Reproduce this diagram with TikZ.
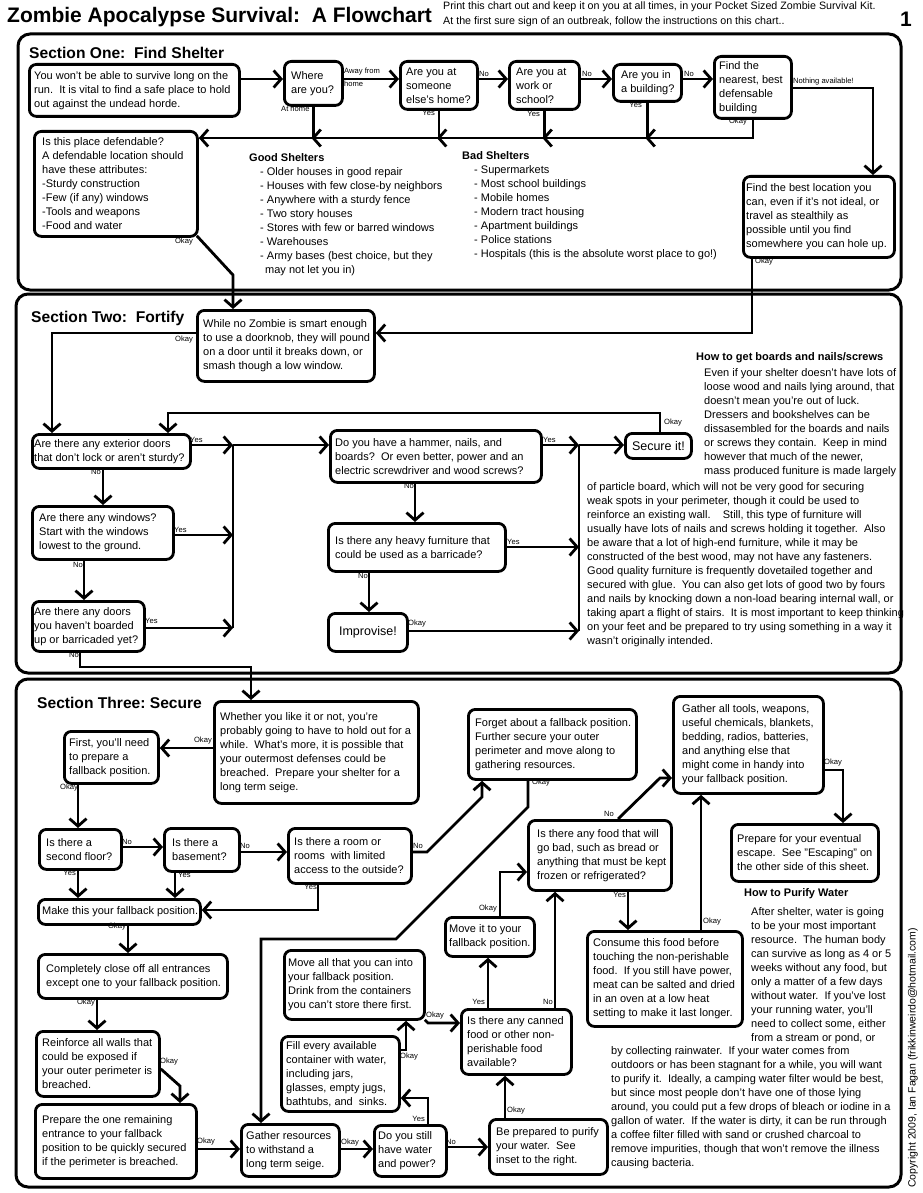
\documentclass[tikz,border=0pt]{standalone}
\usepackage{fontspec}
\setmainfont{Liberation Sans}
\usetikzlibrary{arrows.meta}
\frenchspacing
\newcounter{lbc}
\tikzset{
  bx/.style={draw, line width=2.8pt, rounded corners=7pt, inner sep=0pt},
  tx/.style={font=\fontsize{11}{14}\selectfont, align=left, inner sep=0pt},
  ln/.style={line width=2.8pt},
  ar/.style={line width=2.8pt, -{Straight Barb[length=7.5pt,width=17pt]}},
  lb/.style={font=\fontsize{7.6}{8}\selectfont, inner sep=0pt},
  frm/.style={draw, line width=3pt, rounded corners=12pt},
  hd/.style={font=\bfseries\fontsize{15.6}{18}\selectfont, inner sep=0pt, anchor=base west},
  bh/.style={font=\bfseries\fontsize{11}{14}\selectfont, inner sep=0pt, anchor=west},
  big/.style={font=\fontsize{12.5}{14}\selectfont, inner sep=0pt},
}
\newcommand\Bx[7][]{%
  \node[bx, anchor=north west, minimum width=#5pt, minimum height=#6pt] (#2) at (#3,#4) {};
  \node[tx, anchor=west, #1] (#2t) at ([xshift=5pt]#2.west) {#7};}
\newcommand\Lb[3][west]{\stepcounter{lbc}\node[lb, anchor=#1] (lb\arabic{lbc}) at (#2) {#3};}
\newcommand\TipL[1]{\draw[ar] ([xshift=7pt]#1) -- ([xshift=-2pt]#1);}
\begin{document}
\begin{tikzpicture}[x=1pt,y=-1pt]
\useasboundingbox (0,0) rectangle (922,1193);
\fill[white] (0,0) rectangle (922,1193);

% ---------- header ----------
\node[anchor=base west, font=\bfseries\fontsize{21}{24}\selectfont, inner sep=0pt] (title) at (7,23) {Zombie Apocalypse Survival:\ \ A Flowchart};
\node[anchor=north west, font=\fontsize{10.7}{15}\selectfont, align=left, inner sep=0pt] (intro) at (443,2) {Print this chart out and keep it on you at all times, in your Pocket Sized Zombie Survival Kit.\\At the first sure sign of an outbreak, follow the instructions on this chart..};
\node[anchor=base, font=\bfseries\fontsize{21}{24}\selectfont, inner sep=0pt] (pnum) at (906,27) {1};
\node[font=\fontsize{10.5}{12}\selectfont, rotate=90, anchor=west, inner sep=0pt] (copy) at (913,1188) {Copyright 2009, Ian Fagan (frikkinweirdo@hotmail.com)};

% ---------- frames ----------
\draw[frm] (18,34) rectangle (901,290);
\draw[frm] (16,294) rectangle (901,673);
\draw[frm] (16,679) rectangle (901,1187);
\node[hd] (s1h) at (29,59) {Section One:\ \ Find Shelter};
\node[hd] (s2h) at (31,322) {Section Two:\ \ Fortify};
\node[hd] (s3h) at (37,708) {Section Three: Secure};

% ---------- section one ----------
\Bx[xshift=1pt]{a1}{28}{63}{210}{52}{You won't be able to survive long on the\\run.\ \ It is vital to find a safe place to hold\\out against the undead horde.}
\Bx[xshift=3pt]{where}{283}{60}{58}{44}{Where\\are you?}
\Bx[xshift=2pt]{b3}{399}{60}{77}{48}{Are you at\\someone\\else's home?}
\Bx[xshift=3pt]{b4}{508}{60}{70}{48}{Are you at\\work or\\school?}
\Bx[xshift=4pt]{b5}{612}{63}{68}{37}{Are you in\\a building?}
\Bx[xshift=1pt]{b6}{713}{55}{77}{62}{Find the\\nearest, best\\defensable\\building}
\Bx[xshift=4pt]{b7}{33}{130}{163}{105}{Is this place defendable?\\A defendable location should\\have these attributes:\\-Sturdy construction\\-Few (if any) windows\\-Tools and weapons\\-Food and water}
\Bx[xshift=-1pt]{b8}{742}{175}{151}{81}{Find the best location you\\can, even if it's not ideal, or\\travel as stealthily as\\possible until you find\\somewhere you can hole up.}

\node[tx, anchor=north west] (good) at (249,153) {\textbf{Good Shelters}\\\hspace*{11pt}- Older houses in good repair\\\hspace*{11pt}- Houses with few close-by neighbors\\\hspace*{11pt}- Anywhere with a sturdy fence\\\hspace*{11pt}- Two story houses\\\hspace*{11pt}- Stores with few or barred windows\\\hspace*{11pt}- Warehouses\\\hspace*{11pt}- Army bases (best choice, but they\\\hspace*{16pt}may not let you in)};
\node[tx, anchor=north west] (bad) at (462,151) {\textbf{Bad Shelters}\\\hspace*{12pt}- Supermarkets\\\hspace*{12pt}- Most school buildings\\\hspace*{12pt}- Mobile homes\\\hspace*{12pt}- Modern tract housing\\\hspace*{12pt}- Apartment buildings\\\hspace*{12pt}- Police stations\\\hspace*{12pt}- Hospitals (this is the absolute worst place to go!)};

% ---------- section two ----------
\Bx[xshift=2pt]{z1}{196}{309}{177}{71}{While no Zombie is smart enough\\to use a doorknob, they will pound\\on a door until it breaks down, or\\smash though a low window.}
\Bx[xshift=-2pt]{e1}{31}{433}{158}{34}{Are there any exterior doors\\that don't lock or aren't sturdy?}
\Bx[xshift=3pt]{w1}{31}{505}{141}{53}{Are there any windows?\\Start with the windows\\lowest to the ground.}
\Bx[xshift=-2pt]{d1}{31}{600}{112}{50}{Are there any doors\\you haven't boarded\\up or barricaded yet?}
\Bx[xshift=1pt]{hm}{329}{429}{211}{52}{Do you have a hammer, nails, and\\boards?\ \ Or even better, power and an\\electric screwdriver and wood screws?}
\Bx[xshift=3pt]{f1}{327}{522}{177}{48}{Is there any heavy furniture that\\could be used as a barricade?}
\node[bx, anchor=north west, minimum width=79pt, minimum height=38pt] (i1) at (327,612) {};
\node[big] (i1t) at (i1.center) {Improvise!};
\node[bx, anchor=north west, minimum width=66pt, minimum height=25pt] (s1) at (624,432) {};
\node[big] (s1t) at (s1.center) {Secure it!};

\node[bh] (bhd) at (696,358) {How to get boards and nails/screws};
\node[tx, anchor=north west] (bp1) at (704,368) {Even if your shelter doesn't have lots of\\loose wood and nails lying around, that\\doesn't mean you're out of luck.\\Dressers and bookshelves can be\\dissasembled for the boards and nails\\or screws they contain.\ \ Keep in mind\\however that much of the newer,\\mass produced funiture is made largely};
\node[tx, anchor=north west] (bp2) at (587,482) {of particle board, which will not be very good for securing\\weak spots in your perimeter, though it could be used to\\reinforce an existing wall.\ \ \ \ Still, this type of furniture will\\usually have lots of nails and screws holding it together.\ \ Also\\be aware that a lot of high-end furniture, while it may be\\constructed of the best wood, may not have any fasteners.\\Good quality furniture is frequently dovetailed together and\\secured with glue.\ \ You can also get lots of good two by fours\\and nails by knocking down a non-load bearing internal wall, or\\taking apart a flight of stairs.\ \ It is most important to keep thinking\\on your feet and be prepared to try using something in a way it\\wasn't originally intended.};

% ---------- section three ----------
\Bx[xshift=2pt]{wh}{213}{700}{204}{102}{Whether you like it or not, you're\\probably going to have to hold out for a\\while.\ \ What's more, it is possible that\\your outermost defenses could be\\breached.\ \ Prepare your shelter for a\\long term seige.}
\Bx[xshift=1pt]{fi}{63}{730}{94}{52}{First, you'll need\\to prepare a\\fallback position.}
\Bx[xshift=3pt]{sf}{38}{828}{82}{40}{Is there a\\second floor?}
\Bx[xshift=4pt]{bs}{163}{827}{75}{43}{Is there a\\basement?}
\Bx[xshift=2pt]{rm}{287}{827}{123}{55}{Is there a room or\\rooms\ \ with limited\\access to the outside?}
\Bx{mk}{37}{898}{162}{25}{Make this your fallback position.}
\Bx[xshift=4pt]{cl}{37}{953}{189}{44}{Completely close off all entrances\\except one to your fallback position.}
\Bx[xshift=2pt]{rf}{35}{1030}{123}{65}{Reinforce all walls that\\could be exposed if\\your outer perimeter is\\breached.}
\Bx[xshift=3pt]{pr}{34}{1103}{161}{74}{Prepare the one remaining\\entrance to your fallback\\position to be quickly secured\\if the perimeter is breached.}
\Bx[xshift=1pt]{ga}{240}{1123}{98}{52}{Gather resources\\to withstand a\\long term seige.}
\Bx{wp}{373}{1124}{72}{51}{Do you still\\have water\\and power?}
\Bx[xshift=1pt]{fl}{280}{1035}{118}{75}{Fill every available\\container with water,\\including jars,\\glasses, empty jugs,\\bathtubs, and\ \ sinks.}
\Bx{mv}{283}{949}{140}{69}{Move all that you can into\\your fallback position.\\Drink from the containers\\you can't store there first.}
\Bx[xshift=2pt]{cn}{460}{1008}{110}{65}{Is there any canned\\food or other non-\\perishable food\\available?}
\Bx{mi}{444}{916}{89}{39}{Move it to your\\fallback position.}
\Bx[xshift=5pt]{pe}{527}{819}{143}{70}{Is there any food that will\\go bad, such as bread or\\anything that must be kept\\frozen or refrigerated?}
\Bx[xshift=3pt]{fg}{467}{708}{168}{70}{Forget about a fallback position.\\Further secure your outer\\perimeter and move along to\\gathering resources.}
\Bx[xshift=5pt]{gt}{672}{695}{150}{97}{Gather all tools, weapons,\\useful chemicals, blankets,\\bedding, radios, batteries,\\and anything else that\\might come in handy into\\your fallback position.}
\Bx[xshift=2pt]{es}{730}{823}{147}{57}{Prepare for your eventual\\escape.\ \ See "Escaping" on\\the other side of this sheet.}
\Bx[xshift=2pt]{cs}{586}{930}{155}{95}{Consume this food before\\touching the non-perishable\\food.\ \ If you still have power,\\meat can be salted and dried\\in an oven at a low heat\\setting to make it last longer.}
\Bx[xshift=3pt]{bp}{488}{1118}{118}{55}{Be prepared to purify\\your water.\ \ See\\inset to the right.}

\node[bh] (wph) at (744,894) {How to Purify Water};
\node[tx, anchor=north west] (wp1) at (751,907) {After shelter, water is going\\to be your most important\\resource.\ \ The human body\\can survive as long as 4 or 5\\weeks without any food, but\\only a matter of a few days\\without water.\ \ If you've lost\\your running water, you'll\\need to collect some, either\\from a stream or pond, or};
\node[tx, anchor=north west] (wp2) at (611,1046) {by collecting rainwater.\ \ If your water comes from\\outdoors or has been stagnant for a while, you will want\\to purify it.\ \ Ideally, a camping water filter would be best,\\but since most people don't have one of those lying\\around, you could put a few drops of bleach or iodine in a\\gallon of water.\ \ If the water is dirty, it can be run through\\a coffee filter filled with sand or crushed charcoal to\\remove impurities, though that won't remove the illness\\causing bacteria.};

% ---------- connectors: section one ----------
\coordinate (r1) at (0,79);
\draw[ar] (a1.east |- r1) -- (where.west |- r1);
\draw[ar] (where.east |- r1) -- (b3.west |- r1);
\draw[ar] (b3.east |- r1) -- (b4.west |- r1);
\draw[ar] (b4.east |- r1) -- (b5.west |- r1);
\draw[ar] (b5.east |- r1) -- (b6.west |- r1);
\coordinate (n1) at (873,88);
\draw[ar] (b6.east |- n1) -- (n1) -- (n1 |- b8.north);
\coordinate (L1) at (0,138);
\draw[ar] (b6.south) -- (b6.south |- L1) -- (b7.east |- L1);
\foreach \b in {where,b3,b4,b5}{
  \draw[ln] (\b.south) -- (\b.south |- L1);
  \coordinate (j\b) at (\b.south |- L1);
  \TipL{j\b}
}
\coordinate (k1) at (233,275);
\draw[ar] ([shift={(-2,-2)}]b7.south east) -- (k1) -- (k1 |- z1.north);
\coordinate (k2) at (752,333);
\draw[ar] (b8.south -| k2) -- (k2) -- (z1.east |- k2);

\Lb{344,72}{Away from}
\Lb{344,84}{home}
\Lb{479,74}{No}
\Lb{582,74}{No}
\Lb{684,74}{No}
\Lb{793,82}{Nothing available!}
\Lb{281,109}{At home}
\Lb[east]{435,113}{Yes}
\Lb[east]{540,114}{Yes}
\Lb[east]{642,105}{Yes}
\Lb[east]{747,122}{Okay}
\Lb[east]{193,242}{Okay}
\Lb{755,262}{Okay}

% ---------- connectors: section two ----------
\coordinate (k3) at (52,333);
\draw[ar] (z1.west |- k3) -- (k3) -- (k3 |- e1.north);
\coordinate (k4) at (168,413);
\coordinate (k5) at (660,413);
\draw[ar] (s1.north -| k5) -- (k5) -- (k4) -- (k4 |- e1.north);
\coordinate (c1) at (233,445);
\coordinate (c2) at (233,535);
\coordinate (c3) at (233,628);
\draw[ar] (e1.east |- c1) -- (c1);
\draw[ar] (w1.east |- c2) -- (c2);
\draw[ar] (d1.east |- c3) -- (c3);
\draw[ln] (c1) -- (c3);
\draw[ar] (c1) -- (hm.west |- c1);
\coordinate (c4) at (579,445);
\coordinate (c5) at (579,547);
\coordinate (c6) at (579,631);
\draw[ar] (hm.east |- c4) -- (c4);
\draw[ar] (f1.east |- c5) -- (c5);
\draw[ar] (i1.east |- c6) -- (c6);
\draw[ln] (c4) -- (c6);
\draw[ar] (c4) -- (s1.west |- c4);
\coordinate (k6) at (415,0);
\draw[ar] (hm.south -| k6) -- (k6 |- f1.north);
\coordinate (k7) at (369,0);
\draw[ar] (f1.south -| k7) -- (k7 |- i1.north);
\coordinate (k8) at (103,0);
\draw[ar] (e1.south -| k8) -- (k8 |- w1.north);
\coordinate (k8b) at (84,0);
\draw[ar] (w1.south -| k8b) -- (k8b |- d1.north);
\coordinate (k9) at (80,667);
\coordinate (k10) at (251,667);
\draw[ar] (d1.south -| k9) -- (k9) -- (k10) -- (k10 |- wh.north);

\Lb{175,340}{Okay}
\Lb{664,423}{Okay}
\Lb{190,440}{Yes}
\Lb[east]{101,472}{No}
\Lb{174,530}{Yes}
\Lb[east]{83,565}{No}
\Lb{145,621}{Yes}
\Lb[east]{79,655}{No}
\Lb{543,440}{Yes}
\Lb[east]{414,486}{No}
\Lb{507,542}{Yes}
\Lb[east]{368,576}{No}
\Lb{408,624}{Okay}

% ---------- connectors: section three ----------
\coordinate (m1) at (0,748);
\draw[ar] (wh.west |- m1) -- (fi.east |- m1);
\coordinate (m2) at (78,0);
\draw[ar] (fi.south -| m2) -- (m2 |- sf.north);
\coordinate (m3) at (0,847);
\draw[ar] (sf.east |- m3) -- (bs.west |- m3);
\coordinate (m4) at (0,852);
\draw[ar] (bs.east |- m4) -- (rm.west |- m4);
\coordinate (q1) at (427,852);
\coordinate (q2) at (482,797);
\draw[ar] (rm.east |- q1) -- (q1) -- (q2) -- (q2 |- fg.south);
\coordinate (m5) at (318,910);
\draw[ar] (rm.south -| m5) -- (m5) -- (mk.east |- m5);
\draw[ar] (sf.south -| m2) -- (m2 |- mk.north);
\coordinate (m6) at (175,0);
\draw[ar] (bs.south -| m6) -- (m6 |- mk.north);
\coordinate (m7) at (128,0);
\draw[ar] (mk.south -| m7) -- (m7 |- cl.north);
\coordinate (m8) at (97,0);
\draw[ar] (cl.south -| m8) -- (m8 |- rf.north);
\coordinate (q6) at (180,1086);
\draw[ar] ([yshift=-5pt]rf.east) -- (q6) -- (q6 |- pr.north);
\coordinate (m9) at (0,1149);
\draw[ar] (pr.east |- m9) -- (ga.west |- m9);
\draw[ar] (ga.east |- m9) -- (wp.west |- m9);
\coordinate (m10) at (0,1147);
\draw[ar] (wp.east |- m10) -- (bp.west |- m10);
\coordinate (m11) at (428,1098);
\draw[ar] (wp.north -| m11) -- (m11) -- (fl.east |- m11);
\coordinate (m12) at (406,1050);
\draw[ar] (fl.east |- m12) -- (m12) -- (m12 |- mv.south);
\coordinate (q7) at (428,1023);
\draw[ar] ([shift={(-1,-1)}]mv.south east) -- (q7) -- (cn.west |- q7);
\coordinate (m13) at (488,0);
\draw[ar] (cn.north -| m13) -- (m13 |- mi.south);
\coordinate (m14) at (500,872);
\draw[ar] (mi.north -| m14) -- (m14) -- (pe.west |- m14);
\coordinate (m15) at (555,0);
\draw[ar] (cn.north -| m15) -- (m15 |- pe.south);
\coordinate (q8) at (660,778);
\coordinate (q9) at (618,0);
\draw[ar] (pe.north -| q9) -- (q8) -- (gt.west |- q8);
\coordinate (m16) at (843,770);
\draw[ar] (gt.east |- m16) -- (m16) -- (m16 |- es.north);
\coordinate (m17) at (628,0);
\draw[ar] (pe.south -| m17) -- (m17 |- cs.north);
\coordinate (m18) at (701,0);
\draw[ar] (cs.north -| m18) -- (m18 |- gt.south);
\coordinate (m19) at (505,0);
\draw[ar] (bp.north -| m19) -- (m19 |- cn.south);
\coordinate (q3) at (528,807);
\coordinate (q4) at (396,939);
\coordinate (q5) at (261,939);
\draw[ar] (fg.south -| q3) -- (q3) -- (q4) -- (q5) -- (q5 |- ga.north);

\Lb[east]{212,741}{Okay}
\Lb{60,788}{Okay}
\Lb{122,842}{No}
\Lb{240,846}{No}
\Lb{413,846}{No}
\Lb[east]{317,887}{Yes}
\Lb[east]{76,873}{Yes}
\Lb{178,875}{Yes}
\Lb[east]{126,927}{Okay}
\Lb[east]{95,1003}{Okay}
\Lb{160,1062}{Okay}
\Lb{197,1142}{Okay}
\Lb{341,1143}{Okay}
\Lb{446,1142}{No}
\Lb[east]{425,1119}{Yes}
\Lb{400,1057}{Okay}
\Lb{426,1016}{Okay}
\Lb[east]{485,1002}{Yes}
\Lb[east]{553,1002}{No}
\Lb[east]{497,909}{Okay}
\Lb{604,814}{No}
\Lb{824,763}{Okay}
\Lb[east]{626,895}{Yes}
\Lb{703,922}{Okay}
\Lb{507,1111}{Okay}
\Lb{532,783}{Okay}
\end{tikzpicture}
\end{document}
